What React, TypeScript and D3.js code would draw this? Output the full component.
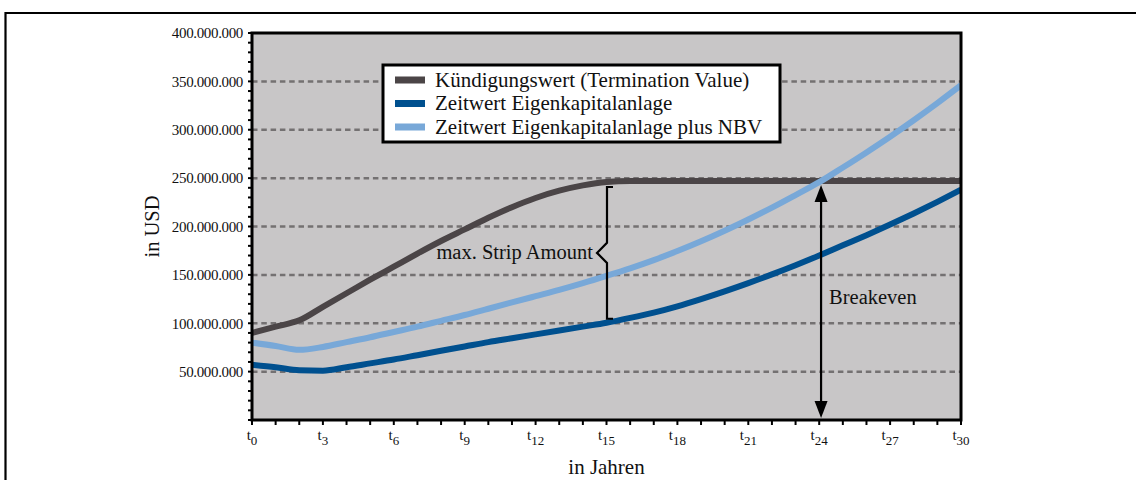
import React from "react";
import * as d3 from "d3";

// Years t0 … t30
const years: number[] = d3.range(0, 31);

// Kündigungswert (Termination Value), in Mio. USD
const terminationValue: number[] = [
  90, 96.5, 103, 117, 131, 145, 158.5, 172, 185, 197, 209, 220, 229.5, 237, 242.5, 246,
  247, 247, 247, 247, 247, 247, 247, 247, 247, 247, 247, 247, 247, 247, 247,
];

// Zeitwert Eigenkapitalanlage, in Mio. USD
const equityValue: number[] = [
  57, 54.5, 51.5, 51, 54.5, 58.5, 62.5, 67, 71.5, 76, 80.5, 84.5, 88.5, 92.5, 96.5, 100.5,
  105.5, 111, 117.5, 125, 133, 141.5, 150.5, 160, 170, 180.5, 191, 202, 213.5, 225.5, 238,
];

// Zeitwert Eigenkapitalanlage plus NBV, in Mio. USD
const equityPlusNbv: number[] = [
  80, 76.5, 72.5, 75.5, 80.5, 85.5, 91, 96.5, 102.5, 108.5, 115, 121.5, 128, 134.5, 141.5, 149,
  156.8, 165.3, 174.6, 184.7, 195.6, 207.2, 219.5, 232.5, 245.8, 261, 276.6, 292.8, 309.8, 327.5, 346,
];

const yTickValues: number[] = [50, 100, 150, 200, 250, 300, 350, 400];
const gridValues: number[] = [50, 100, 150, 200, 250, 300, 350];
const xLabelYears: number[] = [0, 3, 6, 9, 12, 15, 18, 21, 24, 27, 30];

const seriesNames: string[] = [
  "Kündigungswert (Termination Value)",
  "Zeitwert Eigenkapitalanlage",
  "Zeitwert Eigenkapitalanlage plus NBV",
];
const seriesColors: string[] = ["#4b4547", "#00508f", "#78a8d8"];

const stripYear = 15;
const stripLabel = "max. Strip Amount";
const breakevenLabel = "Breakeven";
const xTitle = "in Jahren";
const yTitle = "in USD";

const W = 1136;
const H = 480;
const plot = { left: 252, right: 961, top: 33, bottom: 420 };
const FONT = "'Liberation Serif', 'Times New Roman', serif";

const deFormat = d3.formatLocale({
  decimal: ",",
  thousands: ".",
  grouping: [3],
  currency: ["", " $"],
}).format(",");

export default function App() {
  const x = d3.scaleLinear().domain([0, 30]).range([plot.left, plot.right]);
  const y = d3.scaleLinear().domain([0, 400]).range([plot.bottom, plot.top]);

  const line = d3
    .line<number>()
    .x((_, i) => x(years[i]))
    .y((d) => y(d))
    .curve(d3.curveMonotoneX);

  const series = [terminationValue, equityValue, equityPlusNbv];

  // Breakeven: first year where equity plus NBV reaches the termination value
  let beYear = 30;
  for (let i = 1; i < years.length; i++) {
    const a = equityPlusNbv[i - 1] - terminationValue[i - 1];
    const b = equityPlusNbv[i] - terminationValue[i];
    if (a < 0 && b >= 0) {
      beYear = years[i - 1] + (-a / (b - a)) * (years[i] - years[i - 1]);
      break;
    }
  }
  const beX = x(beYear);
  const beTop = y(d3.interpolateNumber(
    terminationValue[Math.floor(beYear)],
    terminationValue[Math.ceil(beYear)]
  )(beYear - Math.floor(beYear))) + 4;
  const beBottom = plot.bottom - 2;

  // Strip amount bracket between the termination value and the equity value
  const bx = x(stripYear) + 0.5;
  const bTop = y(terminationValue[stripYear]) + 5;
  const bBot = y(equityValue[stripYear]) - 4;
  const bMid = (bTop + bBot) / 2;
  const bracePath = `M${bx + 6},${bTop} H${bx} V${bMid - 10} L${bx - 10},${bMid} L${bx},${bMid + 10} V${bBot} H${bx + 6}`;

  const minorY = d3.range(0, 401, 10);

  const arrowHead = (tipY: number, dir: number) =>
    `M${beX},${tipY} L${beX - 6.5},${tipY + dir * 17} L${beX + 6.5},${tipY + dir * 17} Z`;

  const legend = { x: 383, y: 65, w: 397, h: 77 };

  return (
    <svg
      width={W}
      height={H}
      style={{ position: "absolute", left: 0, top: 0, background: "#fff" }}
      fontFamily={FONT}
    >
      <defs>
        <clipPath id="plotClip">
          <rect x={plot.left} y={plot.top} width={plot.right - plot.left} height={plot.bottom - plot.top} />
        </clipPath>
      </defs>

      {/* outer frame */}
      <path d={`M5.5,${H} V13 H${W}`} fill="none" stroke="#000" strokeWidth={2.2} />

      {/* plot background */}
      <rect
        x={plot.left}
        y={plot.top}
        width={plot.right - plot.left}
        height={plot.bottom - plot.top}
        fill="#c8c6c7"
      />

      {/* grid */}
      {gridValues.map((v) => (
        <line
          key={v}
          x1={plot.left}
          x2={plot.right}
          y1={y(v)}
          y2={y(v)}
          stroke="#747172"
          strokeWidth={2.5}
          strokeDasharray="5.5 3.8"
        />
      ))}

      {/* series */}
      <g clipPath="url(#plotClip)">
        {series.map((s, i) => (
          <path
            key={i}
            d={line(s) || ""}
            fill="none"
            stroke={seriesColors[i]}
            strokeWidth={6}
            strokeLinejoin="round"
          />
        ))}
      </g>

      {/* plot frame */}
      <rect
        x={plot.left}
        y={plot.top}
        width={plot.right - plot.left}
        height={plot.bottom - plot.top}
        fill="none"
        stroke="#000"
        strokeWidth={3}
      />

      {/* y minor ticks */}
      {minorY.map((v) => (
        <line key={v} x1={plot.left - 4} x2={plot.left} y1={y(v)} y2={y(v)} stroke="#000" strokeWidth={2} />
      ))}

      {/* y tick labels */}
      {yTickValues.map((v) => (
        <text
          key={v}
          x={243}
          y={y(v)}
          dy="0.35em"
          textAnchor="end"
          fontSize={15}
          letterSpacing={-0.35}
          fill="#111"
        >
          {deFormat(v * 1e6)}
        </text>
      ))}

      {/* x ticks */}
      {years.map((t) => (
        <line key={t} x1={x(t)} x2={x(t)} y1={plot.bottom} y2={plot.bottom + 5} stroke="#000" strokeWidth={2} />
      ))}

      {/* x tick labels */}
      {xLabelYears.map((t) => (
        <text key={t} x={x(t)} y={440} textAnchor="middle" fontSize={15} fill="#111">
          <tspan>t</tspan>
          <tspan dy={5} fontSize={13}>
            {t}
          </tspan>
        </text>
      ))}

      {/* axis titles */}
      <text x={(plot.left + plot.right) / 2} y={474} textAnchor="middle" fontSize={21} fill="#111">
        {xTitle}
      </text>
      <text
        transform={`translate(159, ${(plot.top + plot.bottom) / 2}) rotate(-90)`}
        textAnchor="middle"
        fontSize={20.5}
        fill="#111"
      >
        {yTitle}
      </text>

      {/* strip amount bracket */}
      <path d={bracePath} fill="none" stroke="#000" strokeWidth={2.2} />
      <text x={bx - 14} y={bMid + 6.5} textAnchor="end" fontSize={20.5} fill="#111">
        {stripLabel}
      </text>

      {/* breakeven arrow */}
      <line x1={beX} x2={beX} y1={beTop + 10} y2={beBottom - 10} stroke="#000" strokeWidth={2.2} />
      <path d={arrowHead(beTop, 1)} fill="#000" />
      <path d={arrowHead(beBottom, -1)} fill="#000" />
      <text x={beX + 8} y={304} fontSize={20.5} fill="#111">
        {breakevenLabel}
      </text>

      {/* legend */}
      <rect x={legend.x} y={legend.y} width={legend.w} height={legend.h} fill="#fff" stroke="#000" strokeWidth={3} />
      {seriesNames.map((name, i) => {
        const cy = legend.y + 15 + i * 23.5;
        return (
          <g key={name}>
            <rect x={395} y={cy - 3.5} width={30} height={7} fill={seriesColors[i]} />
            <text x={435} y={cy + 6.5} fontSize={21} fill="#111">
              {name}
            </text>
          </g>
        );
      })}
    </svg>
  );
}
